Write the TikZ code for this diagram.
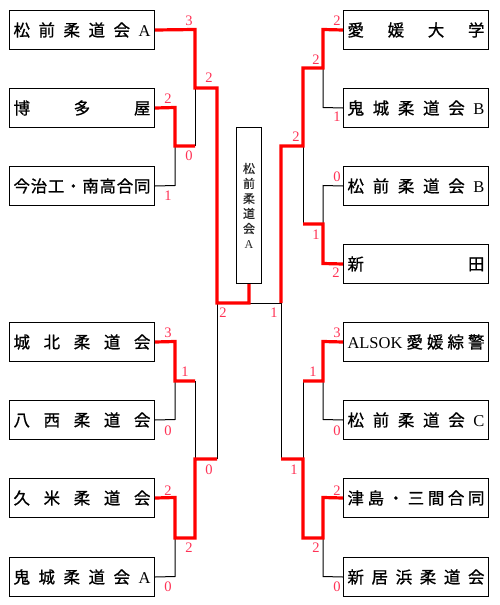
\documentclass[tikz,border=0pt]{standalone}
\usepackage{fontspec}
\setmainfont{Liberation Serif}
\newfontfamily\jp[FakeBold=0.8]{Noto Sans CJK JP}
\definecolor{scorered}{RGB}{255,50,85}
\newcommand{\spr}[1]{\hbox to 137pt{#1}}
\newcommand{\lt}[1]{{\rmfamily #1}}
\tikzset{
  team/.style={draw, line width=1pt, minimum width=145pt, minimum height=39pt, inner sep=0pt, anchor=north west, font=\jp\fontsize{16.5}{18}\selectfont},
  ctr/.style={draw, line width=1pt, minimum width=25pt, minimum height=156pt, inner sep=0pt, anchor=north west, align=center, font=\jp\fontsize{12}{15}\selectfont, text=black!85},
  lose/.style={line width=1pt, black},
  win/.style={line width=3.2pt, red},
  sc/.style={text=scorered, font=\fontsize{14.5}{14.5}\selectfont, inner sep=0pt}
}
\begin{document}
\begin{tikzpicture}[x=1pt,y=-1pt]
\useasboundingbox (0,0) rectangle (499,605);
% left teams
\node[team] (L1) at (9,10)  {\spr{松\hfil 前\hfil 柔\hfil 道\hfil 会\hfil\lt{A}}};
\node[team] (L2) at (9,88)  {\spr{博\hfil 多\hfil 屋}};
\node[team] (L3) at (9,166) {\spr{今\hfil 治\hfil 工\hfil ・\hfil 南\hfil 高\hfil 合\hfil 同}};
\node[team] (L5) at (9,322) {\spr{城\hfil 北\hfil 柔\hfil 道\hfil 会}};
\node[team] (L6) at (9,400) {\spr{八\hfil 西\hfil 柔\hfil 道\hfil 会}};
\node[team] (L7) at (9,478) {\spr{久\hfil 米\hfil 柔\hfil 道\hfil 会}};
\node[team] (L8) at (9,557) {\spr{鬼\hfil 城\hfil 柔\hfil 道\hfil 会\hfil\lt{A}}};
% right teams
\node[team] (R1) at (343,10)  {\spr{愛\hfil 媛\hfil 大\hfil 学}};
\node[team] (R2) at (343,88)  {\spr{鬼\hfil 城\hfil 柔\hfil 道\hfil 会\hfil\lt{B}}};
\node[team] (R3) at (343,166) {\spr{松\hfil 前\hfil 柔\hfil 道\hfil 会\hfil\lt{B}}};
\node[team] (R4) at (343,244) {\spr{新\hfil 田}};
\node[team] (R5) at (343,322) {\spr{\lt{ALSOK}\hfil 愛\hfil 媛\hfil 綜\hfil 警}};
\node[team] (R6) at (343,400) {\spr{松\hfil 前\hfil 柔\hfil 道\hfil 会\hfil\lt{C}}};
\node[team] (R7) at (343,478) {\spr{津\hfil 島\hfil ・\hfil 三\hfil 間\hfil 合\hfil 同}};
\node[team] (R8) at (343,557) {\spr{新\hfil 居\hfil 浜\hfil 柔\hfil 道\hfil 会}};
% champion
\node[ctr] (C) at (236,127) {松\\前\\柔\\道\\会\\\lt{A}};
% junction coordinates
\coordinate (F) at (249,303);
\coordinate (FR) at (281,303);
% losing lines
\draw[lose] (L3.east) -- (175,185.5) -- (175,146);
\draw[lose] (195,146) -- (195,88);
\draw[lose] (L6.east) -- (175,419.5) -- (175,381);
\draw[lose] (195,381) -- (195,459);
\draw[lose] (L8.east) -- (175,576.5) -- (175,538);
\draw[lose] (217,459) -- (217,303);
\draw[lose] (F) -- (FR);
\draw[lose] (R2.west) -- (323,107.5) -- (323,68);
\draw[lose] (303,146) -- (303,224);
\draw[lose] (R3.west) -- (323,185.5) -- (323,224);
\draw[lose] (FR) -- (281,459);
\draw[lose] (303,459) -- (303,381);
\draw[lose] (R6.west) -- (323,419.5) -- (323,381);
\draw[lose] (R8.west) -- (323,576.5) -- (323,538);
% winning lines
\draw[win] (L1.east) -- (195,29.5) -- (195,88) -- (217,88) -- (217,303) -- (F) -- (C.south);
\draw[win] (L2.east) -- (175,107.5) -- (175,146) -- (195,146);
\draw[win] (L5.east) -- (175,341.5) -- (175,381) -- (195,381);
\draw[win] (L7.east) -- (175,497.5) -- (175,538) -- (195,538) -- (195,459) -- (217,459);
\draw[win] (FR) -- (281,146) -- (303,146) -- (303,68) -- (323,68) -- (323,29.5) -- (R1.west);
\draw[win] (303,224) -- (323,224) -- (323,263.5) -- (R4.west);
\draw[win] (281,459) -- (303,459) -- (303,538) -- (323,538) -- (323,497.5) -- (R7.west);
\draw[win] (303,381) -- (323,381) -- (323,341.5) -- (R5.west);
% scores left
\node[sc] (s1) at (189,21) {3};
\node[sc] (s2) at (209,78) {2};
\node[sc] (s3) at (168,99) {2};
\node[sc] (s4) at (189,156) {0};
\node[sc] (s5) at (168,196) {1};
\node[sc] (s6) at (223,313) {2};
\node[sc] (s7) at (274,313) {1};
\node[sc] (s8) at (168,333) {3};
\node[sc] (s9) at (185,372) {1};
\node[sc] (s10) at (168,431) {0};
\node[sc] (s11) at (209,470) {0};
\node[sc] (s12) at (168,491) {2};
\node[sc] (s13) at (189,548) {2};
\node[sc] (s14) at (168,587) {0};
% scores right
\node[sc] (s15) at (337,21) {2};
\node[sc] (s16) at (316,60) {2};
\node[sc] (s17) at (337,117) {1};
\node[sc] (s18) at (296,137) {2};
\node[sc] (s19) at (337,177) {0};
\node[sc] (s20) at (316,235) {1};
\node[sc] (s21) at (336,273) {2};
\node[sc] (s22) at (337,333) {3};
\node[sc] (s23) at (313,372) {1};
\node[sc] (s24) at (337,431) {0};
\node[sc] (s25) at (294,470) {1};
\node[sc] (s26) at (337,491) {2};
\node[sc] (s27) at (316,548) {2};
\node[sc] (s28) at (337,587) {0};
\end{tikzpicture}
\end{document}
